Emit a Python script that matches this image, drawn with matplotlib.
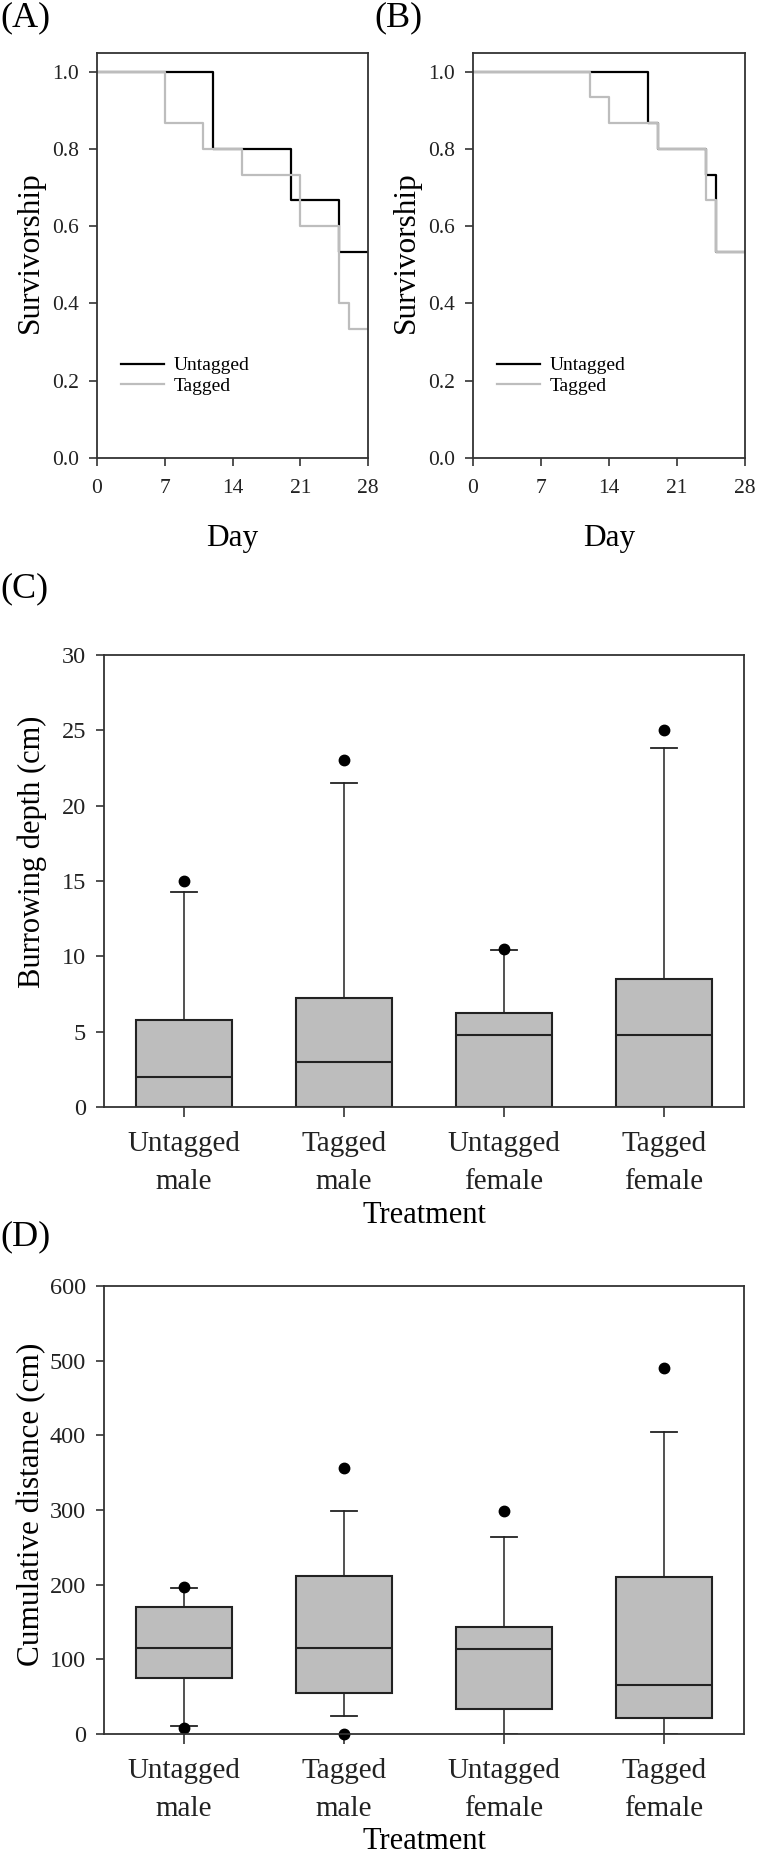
import matplotlib
matplotlib.use("Agg")
import matplotlib.pyplot as plt

plt.rcParams['font.family'] = ['Liberation Serif', 'DejaVu Serif']

# ---------------- data ----------------
# Survivorship (Kaplan-Meier steps): change days and survival values
a_untag_days = [0, 12, 20, 25, 28]
a_untag_surv = [1.0, 0.8, 0.667, 0.533, 0.533]
a_tag_days = [0, 7, 11, 15, 21, 25, 26, 28]
a_tag_surv = [1.0, 0.867, 0.8, 0.733, 0.6, 0.4, 0.333, 0.333]

b_untag_days = [0, 18, 19, 24, 25, 28]
b_untag_surv = [1.0, 0.867, 0.8, 0.733, 0.533, 0.533]
b_tag_days = [0, 12, 14, 19, 24, 25, 28]
b_tag_surv = [1.0, 0.933, 0.867, 0.8, 0.667, 0.533, 0.533]

day_ticks = [0, 7, 14, 21, 28]
surv_ticks = [0.0, 0.2, 0.4, 0.6, 0.8, 1.0]

treatments = ["Untagged\nmale", "Tagged\nmale", "Untagged\nfemale", "Tagged\nfemale"]

# Burrowing depth (cm)
c_whislo = [0, 0, 0, 0]
c_q1 = [0, 0, 0, 0]
c_med = [2.0, 3.0, 4.75, 4.75]
c_q3 = [5.75, 7.25, 6.22, 8.5]
c_whishi = [14.25, 21.5, 10.45, 23.8]
c_fliers = [[15.0], [23.0], [10.5], [25.0]]

# Cumulative distance (cm)
d_whislo = [11, 24.6, 0, 0]
d_q1 = [74.7, 55.4, 33.2, 21.7]
d_med = [115.6, 114.6, 113.2, 65]
d_q3 = [169.6, 212, 143.5, 210.5]
d_whishi = [196, 299, 264, 404]
d_fliers = [[8, 197], [0, 356], [299], [490]]

# ---------------- style ----------------
W, H = 759, 1854
fig = plt.figure(figsize=(W / 100, H / 100), dpi=100)
SPINE = '#333333'
GRAY = '#BDBDBD'


def px_axes(l, t, r, b):
    return fig.add_axes([l / W, 1 - b / H, (r - l) / W, (b - t) / H])


def style(ax, fs):
    for s in ax.spines.values():
        s.set_color(SPINE)
        s.set_linewidth(1.3)
    ax.tick_params(direction='out', length=6, width=1.2, colors=SPINE,
                   labelcolor='#222222', labelsize=fs)


def surv_panel(ax, ud, us, td, ts):
    ax.step(ud, us, where='post', color='black', lw=1.6, label='Untagged')
    ax.step(td, ts, where='post', color=GRAY, lw=1.6, label='Tagged')
    ax.set_xlim(0, 28)
    ax.set_ylim(0, 1.048)
    ax.set_xticks(day_ticks)
    ax.set_yticks(surv_ticks)
    ax.set_yticklabels([f"{v:.1f}" for v in surv_ticks])
    style(ax, 15.5)
    ax.tick_params(axis='x', pad=9)
    ax.tick_params(axis='y', pad=7)
    ax.legend(loc='center left', bbox_to_anchor=(0.06, 0.203), frameon=False,
              fontsize=14, handlelength=2.2, handletextpad=0.5,
              labelspacing=0.15, borderaxespad=0)


axA = px_axes(97, 53, 368, 458)
surv_panel(axA, a_untag_days, a_untag_surv, a_tag_days, a_tag_surv)
axB = px_axes(473, 53, 745, 458)
surv_panel(axB, b_untag_days, b_untag_surv, b_tag_days, b_tag_surv)

fig.text(0 / W, 1 - 18 / H, "(A)", fontsize=26, ha='left', va='center')
fig.text(374 / W, 1 - 18 / H, "(B)", fontsize=26, ha='left', va='center')
for x in (30, 406):
    fig.text(x / W, 1 - 252 / H, "Survivorship", fontsize=22.5, rotation=90,
             ha='center', va='center')
for x in (232, 609):
    fig.text(x / W, 1 - 546 / H, "Day", fontsize=22.5, ha='center',
             va='baseline')


def box_panel(ax, whislo, q1, med, q3, whishi, fliers):
    stats = []
    for i in range(len(med)):
        stats.append(dict(whislo=whislo[i], q1=q1[i], med=med[i], q3=q3[i],
                          whishi=whishi[i], fliers=fliers[i]))
    pos = list(range(1, len(med) + 1))
    ax.bxp(stats, positions=pos, widths=0.6, patch_artist=True,
           showfliers=True,
           boxprops=dict(facecolor=GRAY, edgecolor='#222222', linewidth=1.5),
           medianprops=dict(color='#222222', linewidth=1.5),
           whiskerprops=dict(color='#222222', linewidth=1.1),
           capprops=dict(color='#222222', linewidth=1.3),
           capwidths=0.16,
           flierprops=dict(marker='o', markerfacecolor='black',
                           markeredgecolor='black', markersize=7.5,
                           linestyle='none', clip_on=False))
    ax.set_xlim(0.5, 4.5)
    ax.set_xticks(pos)
    ax.set_xticklabels(treatments)
    style(ax, 17.5)
    ax.tick_params(axis='y', pad=7)
    ax.tick_params(axis='x', labelsize=21, pad=10, length=7)
    for t in ax.get_xticklabels():
        t.set_linespacing(1.62)


axC = px_axes(104, 655, 744, 1107)
box_panel(axC, c_whislo, c_q1, c_med, c_q3, c_whishi, c_fliers)
axC.set_ylim(0, 30)
axC.set_yticks([0, 5, 10, 15, 20, 25, 30])

axD = px_axes(104, 1286, 744, 1734)
box_panel(axD, d_whislo, d_q1, d_med, d_q3, d_whishi, d_fliers)
axD.set_ylim(0, 600)
axD.set_yticks([0, 100, 200, 300, 400, 500, 600])

fig.text(0 / W, 1 - 589 / H, "(C)", fontsize=26, ha='left', va='center')
fig.text(0 / W, 1 - 1237 / H, "(D)", fontsize=26, ha='left', va='center')
fig.text(32 / W, 1 - 852 / H, "Burrowing depth (cm)", fontsize=22, rotation=90,
         ha='center', va='center')
fig.text(32 / W, 1 - 1504 / H, "Cumulative distance (cm)", fontsize=22.5,
         rotation=90, ha='center', va='center')
fig.text(424 / W, 1 - 1223 / H, "Treatment", fontsize=22, ha='center',
         va='baseline')
fig.text(424 / W, 1 - 1849 / H, "Treatment", fontsize=22, ha='center',
         va='baseline')

fig.savefig("out.png", dpi=100)
